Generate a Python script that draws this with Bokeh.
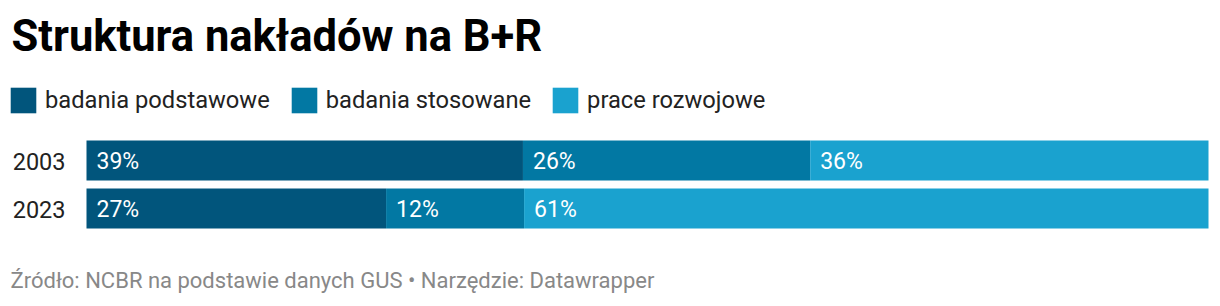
from bokeh.plotting import figure
from bokeh.models import Range1d, Label, Legend, LegendItem, ColumnDataSource
from bokeh.core.properties import value
from bokeh.embed import file_html
from bokeh.resources import INLINE

W, H = 1220, 306

# ---- data ----
years = ["2003", "2023"]
podstawowe = [38.9, 26.7]
stosowane = [25.6, 12.3]
rozwojowe = [35.5, 61.0]
lbl_podstawowe = ["39%", "27%"]
lbl_stosowane = ["26%", "12%"]
lbl_rozwojowe = ["36%", "61%"]
series_names = ["badania podstawowe", "badania stosowane", "prace rozwojowe"]
colors = ["#01557c", "#0278a3", "#1aa2cf"]

title_text = "Struktura nakładów na B+R"
footer_text = "Źródło: NCBR na podstawie danych GUS • Narzędzie: Datawrapper"

FONT = "Roboto"

# y positions: first category on top
ypos = [len(years) - 1 - i for i in range(len(years))]

p = figure(width=W, height=H, output_backend="svg", toolbar_location=None,
           x_range=Range1d(-86 / 1122 * 100, 100 + 12 / 1122 * 100),
           y_range=Range1d(-98 / 48, 1 + 160 / 48),
           min_border=0, min_border_left=0, min_border_right=0,
           min_border_top=0, min_border_bottom=0)
p.xaxis.visible = False
p.yaxis.visible = False
p.xgrid.visible = False
p.ygrid.visible = False
p.outline_line_color = None
p.background_fill_color = "white"
p.border_fill_color = "white"

src = ColumnDataSource(dict(y=ypos, podstawowe=podstawowe, stosowane=stosowane,
                            rozwojowe=rozwojowe))
rs = p.hbar_stack(["podstawowe", "stosowane", "rozwojowe"], y="y", height=40 / 48,
                  color=colors, line_color=None, source=src)

# segment labels
lefts = [[0, 0],
         [podstawowe[0], podstawowe[1]],
         [podstawowe[0] + stosowane[0], podstawowe[1] + stosowane[1]]]
labels = [lbl_podstawowe, lbl_stosowane, lbl_rozwojowe]
for lft, lab in zip(lefts, labels):
    p.text(x=lft, y=ypos, text=lab, x_offset=10, text_baseline="middle",
           text_align="left", text_color="white", text_font=value(FONT),
           text_font_size="23px", y_offset=1)

# year labels
p.text(x=[0] * len(years), y=ypos, text=years, x_offset=-21, text_baseline="middle",
       text_align="right", text_color="#222222", text_font=value(FONT),
       text_font_size="23.5px", y_offset=1)

# legend
legend = Legend(items=[LegendItem(label=n, renderers=[r]) for n, r in zip(series_names, rs)],
                orientation="horizontal", location=(7, H - 116),
                glyph_width=32, glyph_height=32, label_standoff=6, spacing=18,
                padding=0, margin=0, border_line_color=None, background_fill_alpha=0,
                label_text_font=FONT, label_text_font_size="23.7px",
                label_text_color="#222222", label_height=32)
p.add_layout(legend, "center")

# title and footer
p.add_layout(Label(x=11, y=H - 36, x_units="screen", y_units="screen", text=title_text,
                   text_font=FONT, text_font_size="43.5px", text_font_style="bold",
                   text_color="#000000", text_baseline="alphabetic"))
p.add_layout(Label(x=10, y=H - 280, x_units="screen", y_units="screen", text=footer_text,
                   text_font=FONT, text_font_size="22px",
                   text_color="#888888", text_baseline="alphabetic"))

open("out.html", "w").write(file_html(p, INLINE))
